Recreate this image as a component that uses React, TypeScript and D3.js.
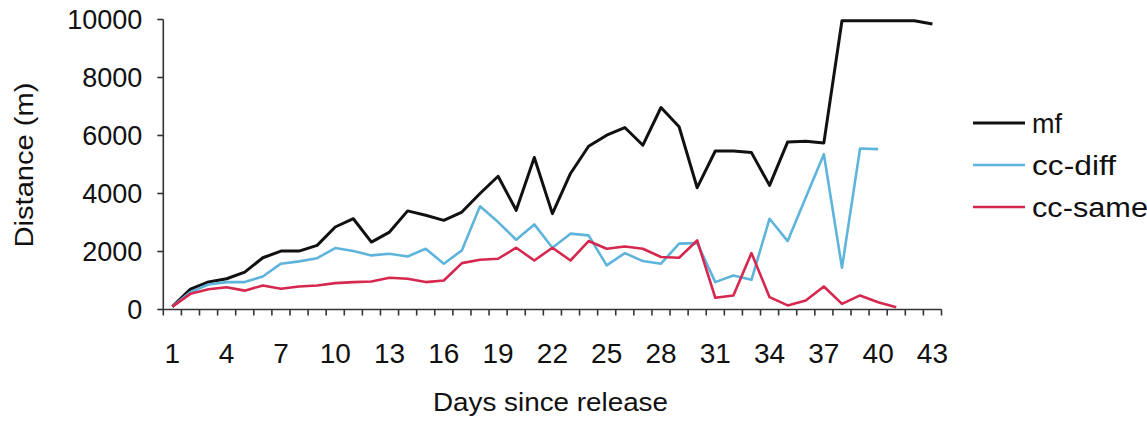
import React from "react";
import * as d3 from "d3";

// Daily distances (m) by group, indexed by day since release (day 1 first)
const days: number[] = d3.range(1, 44);
const xTickLabels: number[] = [1, 4, 7, 10, 13, 16, 19, 22, 25, 28, 31, 34, 37, 40, 43];
const yTicks: number[] = [0, 2000, 4000, 6000, 8000, 10000];

const mf: number[] = [
  100, 700, 950, 1060, 1290, 1785, 2015, 2015, 2210, 2845, 3130, 2325, 2670, 3400, 3250,
  3075, 3360, 4000, 4595, 3420, 5240, 3305, 4690, 5630, 6010, 6275, 5665, 6965, 6300, 4200,
  5465, 5465, 5410, 4280, 5780, 5800, 5745, 9960, 9960, 9960, 9960, 9960, 9845,
];
const ccDiff: number[] = [
  100, 600, 860, 945, 945, 1140, 1580, 1660, 1770, 2120, 2015, 1865, 1920, 1830, 2095,
  1580, 2040, 3560, 3015, 2405, 2935, 2130, 2615, 2555, 1520, 1945, 1670, 1580, 2270, 2290,
  945, 1175, 1025, 3130, 2360, 3860, 5355, 1440, 5550, 5530,
];
const ccSame: number[] = [
  100, 540, 700, 770, 650, 830, 715, 795, 830, 910, 945, 965, 1095, 1060, 945,
  1000, 1600, 1715, 1750, 2130, 1690, 2130, 1690, 2360, 2095, 2175, 2095, 1810, 1785, 2380,
  405, 485, 1945, 425, 140, 310, 795, 195, 485, 250, 80,
];

const seriesNames: string[] = ["mf", "cc-diff", "cc-same"];
const seriesValues: number[][] = [mf, ccDiff, ccSame];
const seriesColors: string[] = ["#111111", "#5fb4dc", "#d6284e"];
const seriesWidths: number[] = [3, 2.6, 2.6];
const legendTextLengths: number[] = [30, 84, 116];

const W = 1147;
const H = 421;
const left = 163.3;
const right = 941.5;
const top = 19.5;
const bottom = 309.5;
const font = "'Liberation Sans', Arial, sans-serif";

export default function App() {
  const x = d3.scaleBand<number>().domain(days).range([left, right]).padding(0);
  const xc = (d: number) => (x(d) as number) + x.bandwidth() / 2;
  const y = d3.scaleLinear().domain([0, 10000]).range([bottom, top]);

  const line = d3
    .line<number>()
    .x((_, i) => xc(days[i]))
    .y((v) => y(v));

  const boundaries = days.map((d) => x(d) as number).concat([right]);

  return (
    <svg
      width={W}
      height={H}
      style={{ position: "absolute", left: 0, top: 0, background: "#fff" }}
      fontFamily={font}
    >
      {/* y axis */}
      <line x1={left} x2={left} y1={top} y2={bottom} stroke="#333" strokeWidth={1.6} />
      {yTicks.map((t) => (
        <g key={t}>
          <line x1={left - 6} x2={left} y1={y(t)} y2={y(t)} stroke="#333" strokeWidth={1.6} />
          <text x={left - 21} y={y(t)} dy="0.36em" textAnchor="end" fontSize={27} fill="#111">
            {t}
          </text>
        </g>
      ))}
      <text
        transform={`translate(${24},${165}) rotate(-90)`}
        textAnchor="middle"
        dy="0.36em"
        fontSize={26}
        fill="#111"
        textLength={165}
        lengthAdjust="spacingAndGlyphs"
      >
        Distance (m)
      </text>

      {/* x axis */}
      <line x1={left} x2={right} y1={bottom} y2={bottom} stroke="#333" strokeWidth={1.6} />
      {boundaries.map((bx, i) => (
        <line key={i} x1={bx} x2={bx} y1={bottom} y2={bottom + 6} stroke="#333" strokeWidth={1.6} />
      ))}
      {xTickLabels.map((d) => (
        <text key={d} x={xc(d)} y={363} textAnchor="middle" fontSize={28} fill="#111">
          {d}
        </text>
      ))}
      <text
        x={433}
        y={411}
        fontSize={25}
        fill="#111"
        textLength={235}
        lengthAdjust="spacingAndGlyphs"
      >
        Days since release
      </text>

      {/* series */}
      {seriesValues.map((vals, i) => (
        <path
          key={seriesNames[i]}
          d={line(vals) as string}
          fill="none"
          stroke={seriesColors[i]}
          strokeWidth={seriesWidths[i]}
          strokeLinejoin="round"
        />
      ))}

      {/* legend */}
      {seriesNames.map((name, i) => {
        const ly = 123 + i * 42;
        return (
          <g key={name}>
            <line x1={973} x2={1025} y1={ly} y2={ly} stroke={seriesColors[i]} strokeWidth={seriesWidths[i]} />
            <text
              x={1032}
              y={ly}
              dy="0.36em"
              fontSize={27}
              fill="#111"
              textLength={legendTextLengths[i]}
              lengthAdjust="spacingAndGlyphs"
            >
              {name}
            </text>
          </g>
        );
      })}
    </svg>
  );
}
